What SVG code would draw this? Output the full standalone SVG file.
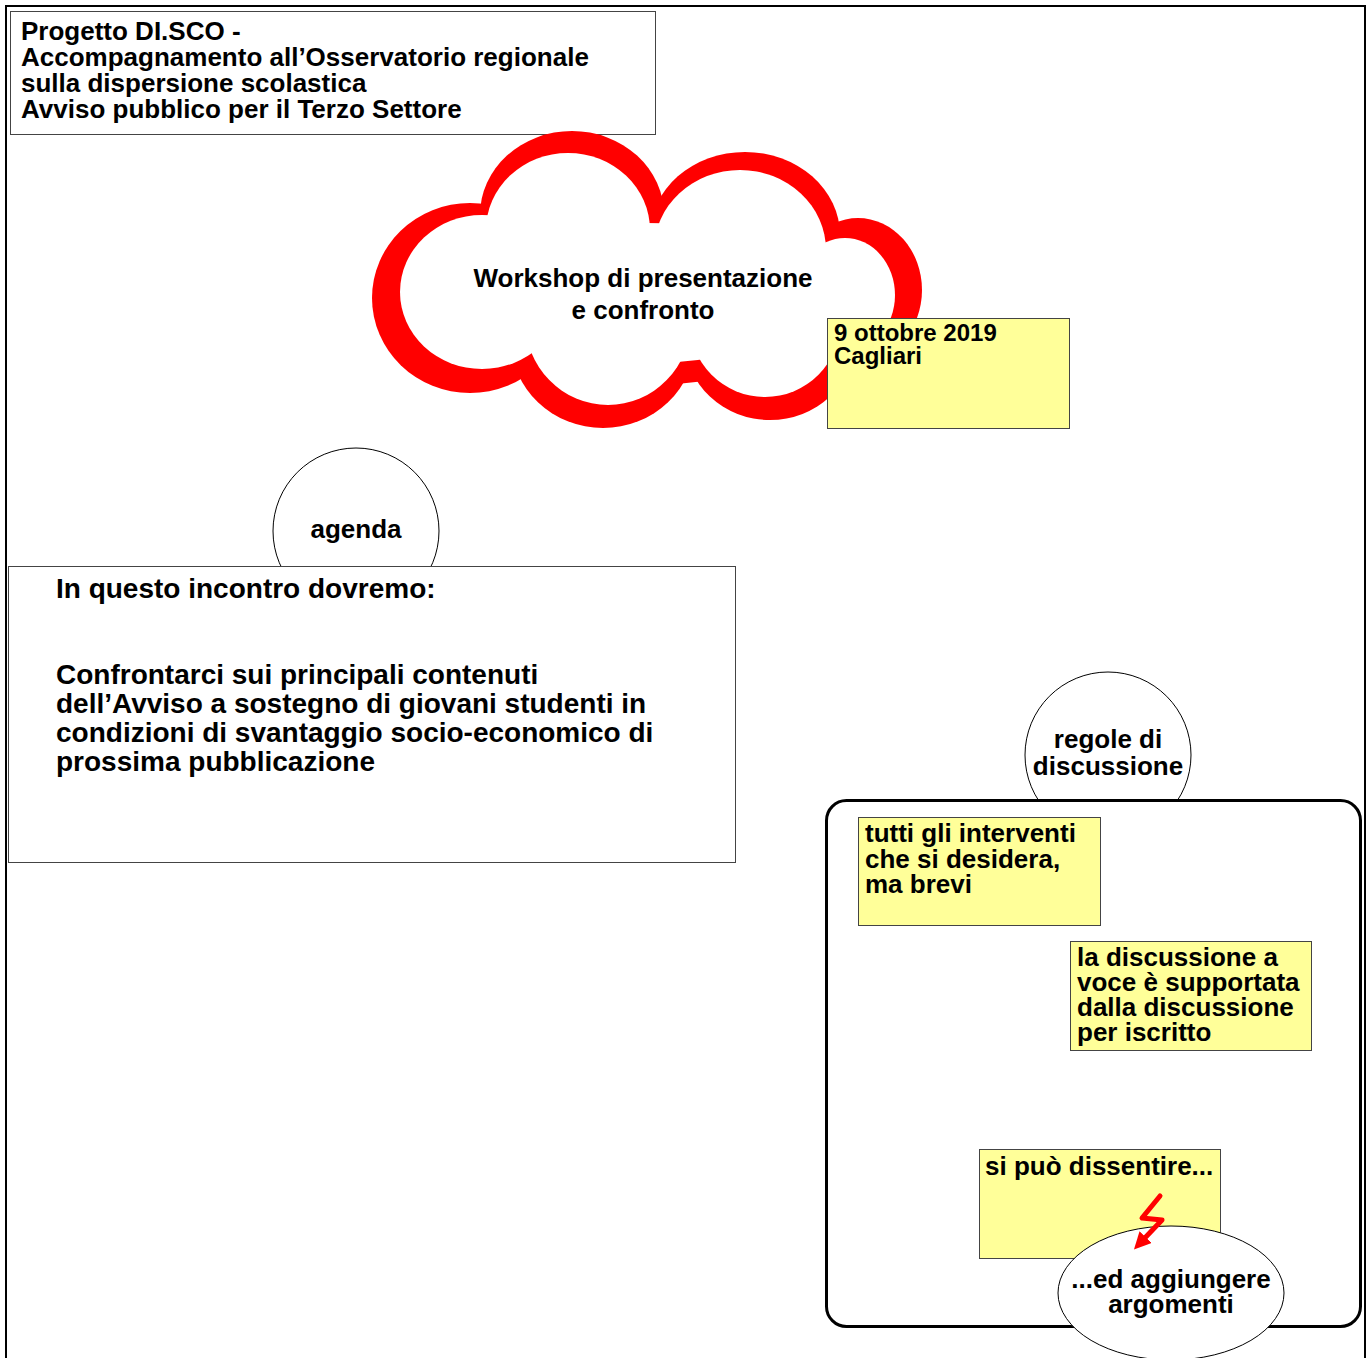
<svg xmlns="http://www.w3.org/2000/svg" width="1367" height="1358" viewBox="0 0 1367 1358">
<defs>
<style>
text{font-family:"Liberation Sans",Arial,sans-serif;font-weight:bold;fill:#000}
.t26{font-size:26px}
.t24{font-size:24px}
.t28{font-size:28px}
.mid{text-anchor:middle}
.box{fill:#fff;stroke:#444;stroke-width:1}
.note{fill:#FFFF99;stroke:#444;stroke-width:1}
.circ{fill:#fff;stroke:#000;stroke-width:1}
.red{fill:#FF0000}
.wht{fill:#fff}
</style>
<marker id="ah" viewBox="0 0 10 10" refX="4" refY="5" markerWidth="3.4" markerHeight="3.4" orient="auto" markerUnits="strokeWidth">
<path d="M0,0 L10,5 L0,10 z" fill="#FF0000"/>
</marker>
</defs>
<rect width="1367" height="1358" fill="#fff"/>
<rect id="frame" x="6" y="6" width="1359" height="1400" fill="none" stroke="#000" stroke-width="2"/>

<g id="title">
<rect class="box" x="10.5" y="11.5" width="645" height="123"/>
<text class="t26" x="21" y="40">Progetto DI.SCO -</text>
<text class="t26" x="21" y="66">Accompagnamento all’Osservatorio regionale</text>
<text class="t26" x="21" y="92">sulla dispersione scolastica</text>
<text class="t26" x="21" y="118">Avviso pubblico per il Terzo Settore</text>
</g>

<g id="cloud">
<g class="red">
<ellipse cx="470" cy="298" rx="98" ry="95"/>
<ellipse cx="572" cy="215" rx="92" ry="84"/>
<ellipse cx="745" cy="235" rx="95" ry="83"/>
<ellipse cx="858" cy="290" rx="64" ry="72"/>
<ellipse cx="770" cy="340" rx="85" ry="80"/>
<ellipse cx="603" cy="340" rx="92" ry="88"/>
<ellipse cx="645" cy="300" rx="200" ry="85"/>
</g>
<g class="wht">
<ellipse cx="482" cy="292" rx="82" ry="77"/>
<ellipse cx="568" cy="230" rx="82" ry="77"/>
<ellipse cx="740" cy="250" rx="86" ry="80"/>
<ellipse cx="845" cy="295" rx="50" ry="57"/>
<ellipse cx="765" cy="320" rx="76" ry="77"/>
<ellipse cx="608" cy="320" rx="83" ry="85"/>
<ellipse cx="645" cy="293" rx="180" ry="70"/>
</g>
<text class="t26 mid" x="643" y="287">Workshop di presentazione</text>
<text class="t26 mid" x="643" y="319">e confronto</text>
</g>

<g id="date">
<rect class="note" x="827.5" y="318.5" width="242" height="110"/>
<text class="t24" x="834" y="341">9 ottobre 2019</text>
<text class="t24" x="834" y="364">Cagliari</text>
</g>

<g id="agenda-label">
<circle class="circ" cx="356" cy="531" r="83"/>
<text class="t26 mid" x="356" y="538">agenda</text>
</g>

<g id="agenda">
<rect class="box" x="8.5" y="566.5" width="727" height="296"/>
<text class="t28" x="56" y="598">In questo incontro dovremo:</text>
<text class="t28" x="56" y="684">Confrontarci sui principali contenuti</text>
<text class="t28" x="56" y="713">dell’Avviso a sostegno di giovani studenti in</text>
<text class="t28" x="56" y="742">condizioni di svantaggio socio-economico di</text>
<text class="t28" x="56" y="771">prossima pubblicazione</text>
</g>

<g id="rules-label">
<circle class="circ" cx="1108" cy="755" r="83"/>
<text class="t26 mid" x="1108" y="748">regole di</text>
<text class="t26 mid" x="1108" y="775">discussione</text>
</g>

<g id="rules">
<rect x="826.5" y="800.5" width="534" height="526" rx="20" ry="20" fill="#fff" stroke="#000" stroke-width="3"/>
</g>

<g id="rule1">
<rect class="note" x="858.5" y="817.5" width="242" height="108"/>
<text class="t26" x="865" y="842">tutti gli interventi</text>
<text class="t26" x="865" y="868">che si desidera,</text>
<text class="t26" x="865" y="893">ma brevi</text>
</g>

<g id="rule2">
<rect class="note" x="1070.5" y="941.5" width="241" height="109"/>
<text class="t26" x="1077" y="966">la discussione a</text>
<text class="t26" x="1077" y="991">voce è supportata</text>
<text class="t26" x="1077" y="1016">dalla discussione</text>
<text class="t26" x="1077" y="1041">per iscritto</text>
</g>

<g id="rule3">
<rect class="note" x="979.5" y="1149.5" width="241" height="109"/>
<text class="t26" x="985" y="1175">si può dissentire...</text>
</g>

<g id="add">
<ellipse class="circ" cx="1171" cy="1293" rx="113" ry="67"/>
<text class="t26 mid" x="1171" y="1288">...ed aggiungere</text>
<text class="t26 mid" x="1171" y="1313">argomenti</text>
</g>

<g id="connectors">
<polyline points="1160,1196 1142,1218 1162,1220 1141,1242" fill="none" stroke="#FF0000" stroke-width="5" stroke-linejoin="round" stroke-linecap="round" marker-end="url(#ah)"/>
</g>
</svg>
